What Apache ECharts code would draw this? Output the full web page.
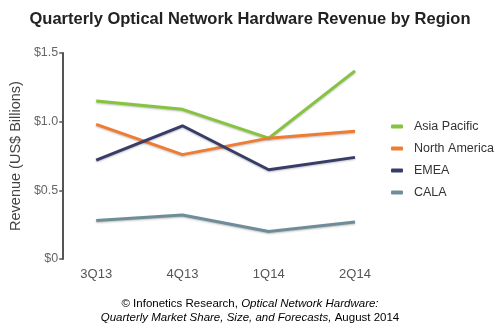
<!DOCTYPE html>
<html><head><meta charset="utf-8">
<script src="https://cdn.jsdelivr.net/npm/echarts@6/dist/echarts.min.js"></script>
<style>html,body{margin:0;padding:0;background:#fff}#c{width:500px;height:333px}</style>
</head><body><div id="c"></div>
<script>
const categories = ['3Q13', '4Q13', '1Q14', '2Q14'];
const seriesNames = ['Asia Pacific', 'North America', 'EMEA', 'CALA'];
const asiaPacific = [1.15, 1.09, 0.88, 1.37];
const northAmerica = [0.98, 0.76, 0.88, 0.93];
const emea = [0.72, 0.97, 0.65, 0.74];
const cala = [0.28, 0.32, 0.20, 0.27];
const yTicks = [0, 0.5, 1.0, 1.5];
const yTickLabels = ['$0', '$0.5', '$1.0', '$1.5'];

const colors = ['#86c440', '#ee7d33', '#383c68', '#6e8d99'];
const dataArr = [asiaPacific, northAmerica, emea, cala];
const font = '"Liberation Sans", Arial, sans-serif';

const chart = echarts.init(document.getElementById('c'), null, {renderer: 'canvas'});
chart.setOption({
  animation: false,
  backgroundColor: '#ffffff',
  title: {
    text: 'Quarterly Optical Network Hardware Revenue by Region',
    left: 'center', top: 6,
    textStyle: {fontFamily: font, fontSize: 16.5, fontWeight: 'bold', color: '#222'}
  },
  legend: {
    orient: 'vertical', left: 386, top: 115, itemGap: 9,
    itemWidth: 12, itemHeight: 4, icon: 'roundRect',
    textStyle: {fontFamily: font, fontSize: 12.5, color: '#333', padding: [0, 0, 0, 6]},
    data: seriesNames
  },
  grid: {left: 93, right: 145, top: 53, bottom: 74},
  xAxis: {
    type: 'category', data: categories, boundaryGap: false,
    axisLine: {show: false}, axisTick: {show: false},
    axisLabel: {fontFamily: font, fontSize: 13, color: '#555', margin: 9},
    splitLine: {show: false}
  },
  yAxis: {
    type: 'value', min: 0, max: 1.5, interval: 0.5, offset: 33,
    axisLine: {show: true, lineStyle: {color: '#555', width: 2}},
    axisTick: {show: true, length: 4, lineStyle: {color: '#555', width: 1.5}},
    axisLabel: {fontFamily: font, fontSize: 12.5, color: '#666', margin: 5,
      formatter: v => yTickLabels[yTicks.indexOf(Math.round(v * 10) / 10)] ?? ''},
    splitLine: {show: false},
    name: 'Revenue (US$ Billions)', nameLocation: 'middle', nameGap: 35,
    nameTextStyle: {fontFamily: font, fontSize: 14.5, color: '#444'}
  },
  series: seriesNames.map((n, i) => ({
    name: n, type: 'line', data: dataArr[i], symbol: 'none',
    color: colors[i],
    lineStyle: {width: 3, color: colors[i], shadowColor: 'rgba(0,0,0,0.25)', shadowBlur: 2, shadowOffsetY: 1}
  })),
  graphic: [{
    type: 'text', x: 250, y: 298,
    style: {
      text: '{n|© Infonetics Research, }{i|Optical Network Hardware:}',
      align: 'center',
      rich: {
        n: {fontFamily: font, fontSize: 11.5, color: '#333'},
        i: {fontFamily: font, fontSize: 11.5, fontStyle: 'italic', color: '#333'}
      }
    }
  }, {
    type: 'text', x: 250, y: 312,
    style: {
      text: '{i|Quarterly Market Share, Size, and Forecasts,}{n| August 2014}',
      align: 'center',
      rich: {
        n: {fontFamily: font, fontSize: 11.5, color: '#333'},
        i: {fontFamily: font, fontSize: 11.5, fontStyle: 'italic', color: '#333'}
      }
    }
  }]
});
</script></body></html>
